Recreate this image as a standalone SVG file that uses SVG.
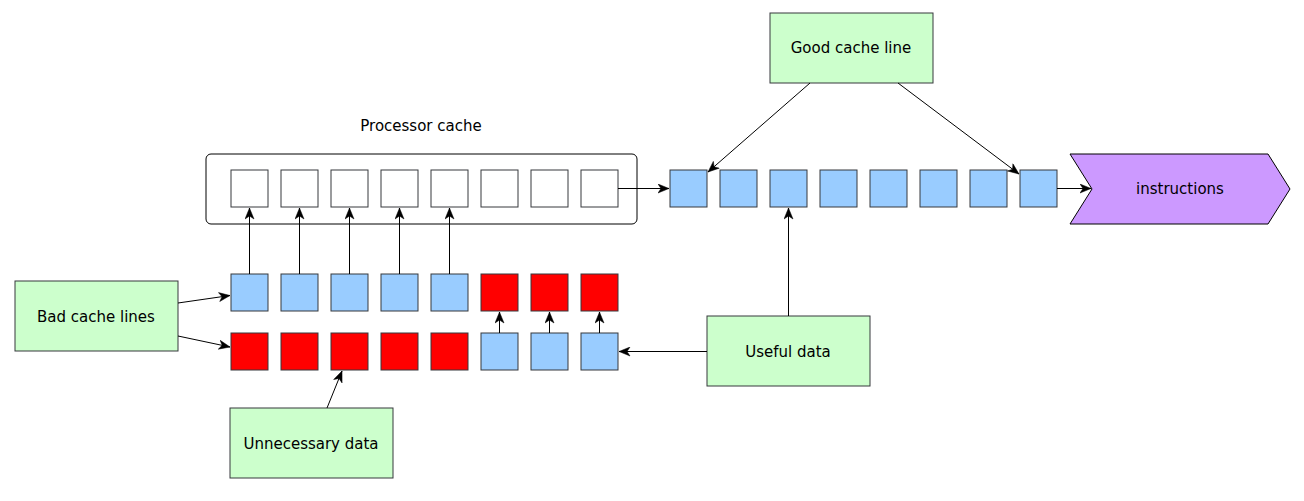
<svg xmlns="http://www.w3.org/2000/svg" width="1304" height="501" viewBox="0 0 1304 501">
<style>
text{font-family:"DejaVu Sans","Liberation Sans",sans-serif;font-size:15px;fill:#000;text-anchor:middle;dominant-baseline:central}
.sq{stroke:#36393d;stroke-width:1}
.w{fill:#fff}.b{fill:#99ccff}.r{fill:#ff0000}
.g{fill:#ccffcc;stroke:#36393d;stroke-width:1}
.c{fill:none;stroke:#000;stroke-width:1;marker-end:url(#a)}
</style>
<defs>
<marker id="a" markerUnits="userSpaceOnUse" markerWidth="12" markerHeight="10" refX="11.5" refY="5" orient="auto" viewBox="0 0 12 10">
<path d="M0.5,0.5 L11.5,5 L0.5,9.5 L3.5,5 Z" fill="#000" stroke="#000" stroke-width="0.5"/>
</marker>
</defs>
<rect width="1304" height="501" fill="#fff"/>
<g id="processor-cache">
<rect x="206" y="154" width="431" height="70" rx="5" fill="#fff" stroke="#000"/>
<text x="421" y="126">Processor cache</text>
<rect class="sq w" x="231" y="170" width="37" height="37"/>
<rect class="sq w" x="281" y="170" width="37" height="37"/>
<rect class="sq w" x="331" y="170" width="37" height="37"/>
<rect class="sq w" x="381" y="170" width="37" height="37"/>
<rect class="sq w" x="431" y="170" width="37" height="37"/>
<rect class="sq w" x="481" y="170" width="37" height="37"/>
<rect class="sq w" x="531" y="170" width="37" height="37"/>
<rect class="sq w" x="581" y="170" width="37" height="37"/>
</g>
<g id="row-upper">
<rect class="sq b" x="231" y="274" width="37" height="37"/>
<rect class="sq b" x="281" y="274" width="37" height="37"/>
<rect class="sq b" x="331" y="274" width="37" height="37"/>
<rect class="sq b" x="381" y="274" width="37" height="37"/>
<rect class="sq b" x="431" y="274" width="37" height="37"/>
<rect class="sq r" x="481" y="274" width="37" height="37"/>
<rect class="sq r" x="531" y="274" width="37" height="37"/>
<rect class="sq r" x="581" y="274" width="37" height="37"/>
</g>
<g id="row-lower">
<rect class="sq r" x="231" y="333" width="37" height="37"/>
<rect class="sq r" x="281" y="333" width="37" height="37"/>
<rect class="sq r" x="331" y="333" width="37" height="37"/>
<rect class="sq r" x="381" y="333" width="37" height="37"/>
<rect class="sq r" x="431" y="333" width="37" height="37"/>
<rect class="sq b" x="481" y="333" width="37" height="37"/>
<rect class="sq b" x="531" y="333" width="37" height="37"/>
<rect class="sq b" x="581" y="333" width="37" height="37"/>
</g>
<g id="instruction-stream">
<rect class="sq b" x="670" y="170" width="37" height="37"/>
<rect class="sq b" x="720" y="170" width="37" height="37"/>
<rect class="sq b" x="770" y="170" width="37" height="37"/>
<rect class="sq b" x="820" y="170" width="37" height="37"/>
<rect class="sq b" x="870" y="170" width="37" height="37"/>
<rect class="sq b" x="920" y="170" width="37" height="37"/>
<rect class="sq b" x="970" y="170" width="37" height="37"/>
<rect class="sq b" x="1020" y="170" width="37" height="37"/>
</g>
<g id="instructions">
<path d="M1070,154 L1268,154 L1290,189 L1268,224 L1070,224 L1092,189 Z" fill="#cc99ff" stroke="#000"/>
<text x="1180" y="189">instructions</text>
</g>
<g id="good-cache-line">
<rect class="g" x="770" y="13" width="163" height="70"/>
<text x="851" y="48">Good cache line</text>
</g>
<g id="bad-cache-lines">
<rect class="g" x="15" y="281" width="163" height="70"/>
<text x="96" y="317">Bad cache lines</text>
</g>
<g id="useful-data">
<rect class="g" x="707" y="316" width="163" height="70"/>
<text x="788" y="352">Useful data</text>
</g>
<g id="unnecessary-data">
<rect class="g" x="230" y="408" width="163" height="70"/>
<text x="311" y="444">Unnecessary data</text>
</g>
<g id="connectors">
<path class="c" d="M249.5,274 V208"/>
<path class="c" d="M299.5,274 V208"/>
<path class="c" d="M349.5,274 V208"/>
<path class="c" d="M399.5,274 V208"/>
<path class="c" d="M449.5,274 V208"/>
<path class="c" d="M499.5,333 V312"/>
<path class="c" d="M549.5,333 V312"/>
<path class="c" d="M599.5,333 V312"/>
<path class="c" d="M618,188.5 H669"/>
<path class="c" d="M1057,188.5 H1091"/>
<path class="c" d="M810,83 L708,172"/>
<path class="c" d="M898,83 L1019,174"/>
<path class="c" d="M788.5,316 V208"/>
<path class="c" d="M707,351.5 H619"/>
<path class="c" d="M178,303 L230,295.5"/>
<path class="c" d="M178,336 L230,347"/>
<path class="c" d="M327,408 L342,371"/>
</g>
</svg>
